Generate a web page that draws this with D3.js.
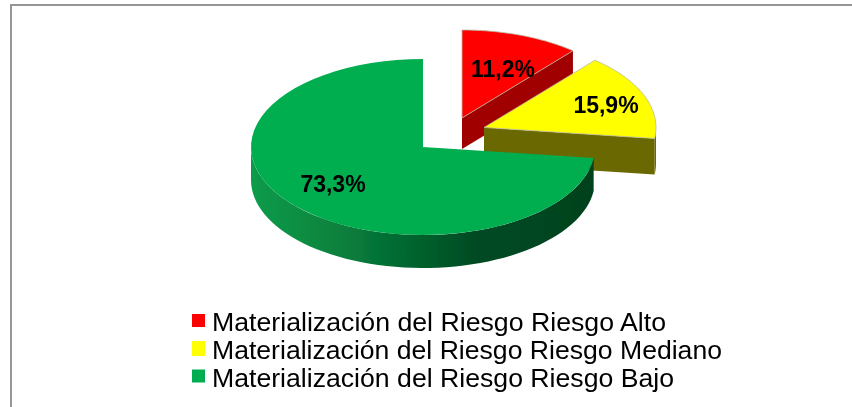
<!DOCTYPE html>
<html><head><meta charset="utf-8">
<script src="https://cdn.jsdelivr.net/npm/d3@7"></script>
<style>html,body{margin:0;padding:0;background:#fff}svg{display:block}text{font-family:"Liberation Sans",Arial,sans-serif}</style>
</head><body><svg id="c" width="852" height="407"></svg>
<script>
const categories = ["Materialización del Riesgo Riesgo Alto","Materialización del Riesgo Riesgo Mediano","Materialización del Riesgo Riesgo Bajo"];
const values = [11.2, 15.9, 73.3];
const labels = ["11,2%","15,9%","73,3%"];
const colors = ["#ff0000","#ffff00","#00ad50"];
const sideColors = ["#a00000","#6b6700","#014a22"];
const centers = [[462,118],[484,127.5],[423,147]];
const depths = [31,36,33];
const labelPos = [[503,77],[606,113],[333,192]];
const gradStops = [[0,"#0d9b4c"],[0.14,"#088e42"],[0.32,"#07793a"],[0.5,"#02602c"],[0.66,"#014a22"],[1,"#01421e"]];
const legendWidths = [454,510,462];
const legendBaselines = [331,359,386.5];
const rx = 172, ry = 88;

const svg = d3.select("#c");
const defs = svg.append("defs");
defs.append("filter").attr("id","soft").attr("x","-5%").attr("y","-5%").attr("width","110%").attr("height","110%")
  .append("feGaussianBlur").attr("stdDeviation",0.45);
defs.append("filter").attr("id","softText").attr("x","-5%").attr("y","-20%").attr("width","110%").attr("height","140%")
  .append("feGaussianBlur").attr("stdDeviation",0.3);
const grad = defs.append("linearGradient").attr("id","gs");
grad.selectAll("stop").data(gradStops).join("stop").attr("offset",d=>d[0]).attr("stop-color",d=>d[1]);

// frame
const frame = svg.append("g").attr("stroke","#969696").attr("stroke-width",2).attr("fill","none");
frame.append("path").attr("d",d3.line()([[11,407],[11,5],[852,5]]));

const arcs = d3.pie().sort(null).value(d=>d)(values);
const pt = (c,a,dy=0)=>[c[0]+rx*Math.sin(a), c[1]-ry*Math.cos(a)+dy];
const line = d3.line();
const rim = (c,a0,a1,dy=0)=>d3.range(0,61).map(i=>pt(c,a0+(a1-a0)*i/60,dy));
const g = svg.append("g").attr("filter","url(#soft)");

arcs.forEach((a,i)=>{
  const c = centers[i], depth = depths[i], s = g.append("g");
  if(i<2){
    s.append("path").attr("fill",sideColors[i])
      .attr("d",line([c,pt(c,a.endAngle),pt(c,a.endAngle,depth),[c[0],c[1]+depth]])+"Z");
    if(a.endAngle>Math.PI/2){
      s.append("path").attr("fill",sideColors[i])
        .attr("d",line([...rim(c,Math.PI/2,a.endAngle),...rim(c,Math.PI/2,a.endAngle,depth).reverse()])+"Z");
    }
  } else {
    s.append("path").attr("fill","url(#gs)")
      .attr("d",line([...rim(c,a.startAngle,Math.PI*1.5),...rim(c,a.startAngle,Math.PI*1.5,depth).reverse()])+"Z");
  }
  s.append("path").attr("fill",colors[i])
    .attr("stroke",i==2?"none":"#b9b9a0").attr("stroke-width",i==2?0:0.8)
    .attr("d",line([c,...rim(c,a.startAngle,a.endAngle)])+"Z");
});

svg.append("g").attr("filter","url(#softText)").selectAll("text").data(labels).join("text")
  .attr("x",(d,i)=>labelPos[i][0]).attr("y",(d,i)=>labelPos[i][1])
  .attr("text-anchor","middle").attr("font-size",23).attr("font-weight","bold").attr("fill","#000").text(d=>d);

const lg = svg.append("g").selectAll("g").data(categories).join("g")
  .attr("transform",(d,i)=>`translate(0,${legendBaselines[i]})`);
lg.append("rect").attr("x",192).attr("y",(d,i)=>i==1?-18:-17).attr("width",13).attr("height",(d,i)=>i==1?15:13)
  .attr("fill",(d,i)=>colors[i]);
lg.append("text").attr("x",212).attr("y",0).attr("font-size",25.5).attr("fill","#000").attr("filter","url(#softText)")
  .attr("textLength",(d,i)=>legendWidths[i]).attr("lengthAdjust","spacingAndGlyphs").text(d=>d);
</script></body></html>
